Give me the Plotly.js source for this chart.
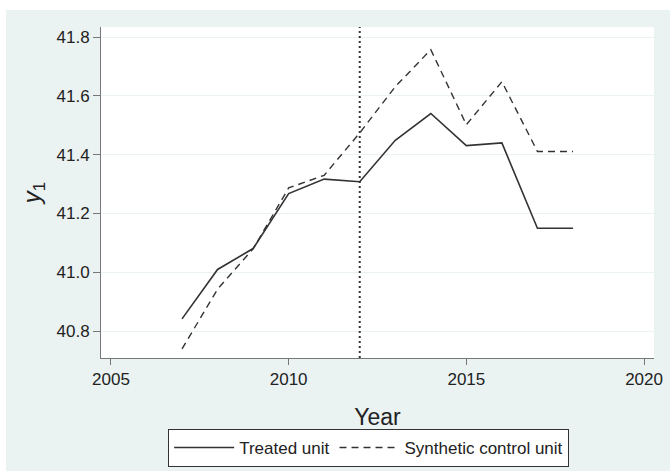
<!DOCTYPE html>
<html>
<head>
<meta charset="utf-8">
<script src="https://cdn.plot.ly/plotly-3.0.1.min.js"></script>
<style>html,body{margin:0;padding:0;background:#fff;}#chart{width:670px;height:471px;}</style>
</head>
<body>
<div id="chart"></div>
<script>
const years = [2007, 2008, 2009, 2010, 2011, 2012, 2013, 2014, 2015, 2016, 2017, 2018];
const treated = [40.842, 41.010, 41.081, 41.268, 41.317, 41.308, 41.449, 41.540, 41.431, 41.440, 41.150, 41.150];
const synthetic = [40.740, 40.943, 41.080, 41.287, 41.330, 41.474, 41.631, 41.757, 41.502, 41.648, 41.411, 41.411];
const seriesNames = ["Treated unit", "Synthetic control unit"];
const treatmentYear = [2012];
const xTicks = [2005, 2010, 2015, 2020];
const yTicks = [40.8, 41.0, 41.2, 41.4, 41.6, 41.8];

const font = "Liberation Sans, Arial, sans-serif";
const traces = [
  {x: years, y: treated, name: seriesNames[0], type: "scatter", mode: "lines",
   line: {color: "#333333", width: 1.6}},
  {x: years, y: synthetic, name: seriesNames[1], type: "scatter", mode: "lines",
   line: {color: "#333333", width: 1.4, dash: "7px,5px"}}
];
const layout = {
  width: 670, height: 471,
  margin: {l: 101, r: 16, t: 27, b: 113, autoexpand: false},
  paper_bgcolor: "#ebf2f2",
  plot_bgcolor: "#ffffff",
  font: {family: font, size: 17, color: "#222"},
  showlegend: true,
  legend: {orientation: "h", x: 0.484, xanchor: "center", y: -0.3293, yanchor: "bottom",
    bgcolor: "#ffffff", bordercolor: "#333", borderwidth: 1,
    font: {family: font, size: 17, color: "#222"}, itemwidth: 60, tracegroupgap: 0},
  xaxis: {range: [2004.72, 2020.28], tickvals: xTicks, ticktext: xTicks.map(String),
    showgrid: false, zeroline: false, showline: true, linecolor: "#777", linewidth: 1,
    ticks: "outside", ticklen: 6, tickcolor: "#777",
    tickfont: {family: font, size: 17, color: "#222"},
    title: {text: "Year", font: {family: font, size: 23, color: "#222"}, standoff: 20}},
  yaxis: {range: [40.709, 41.834], tickvals: yTicks, ticktext: yTicks.map(v => v.toFixed(1)),
    showgrid: true, gridcolor: "#ebf2f2", gridwidth: 1, zeroline: false,
    showline: true, linecolor: "#777", linewidth: 1,
    ticks: "outside", ticklen: 7, tickcolor: "#777",
    tickfont: {family: font, size: 17, color: "#222"},
    title: {text: "<i>y</i><sub>1</sub>", font: {family: font, size: 24, color: "#222"}, standoff: 9}},
  shapes: [
    {type: "line", xref: "x", yref: "paper", x0: treatmentYear[0], x1: treatmentYear[0], y0: 0, y1: 1,
     line: {color: "#333", width: 2, dash: "2px,3px"}},
    {type: "rect", xref: "paper", yref: "paper", x0: -0.1826, x1: -0.1718, y0: -0.3414, y1: 1.0816,
     fillcolor: "#ffffff", line: {width: 0}, layer: "below"},
    {type: "rect", xref: "paper", yref: "paper", x0: -0.1826, x1: 1.029, y0: 1.0514, y1: 1.0816,
     fillcolor: "#ffffff", line: {width: 0}, layer: "below"}
  ]
};
Plotly.newPlot("chart", traces, layout, {displayModeBar: false, staticPlot: true});
</script>
</body>
</html>
